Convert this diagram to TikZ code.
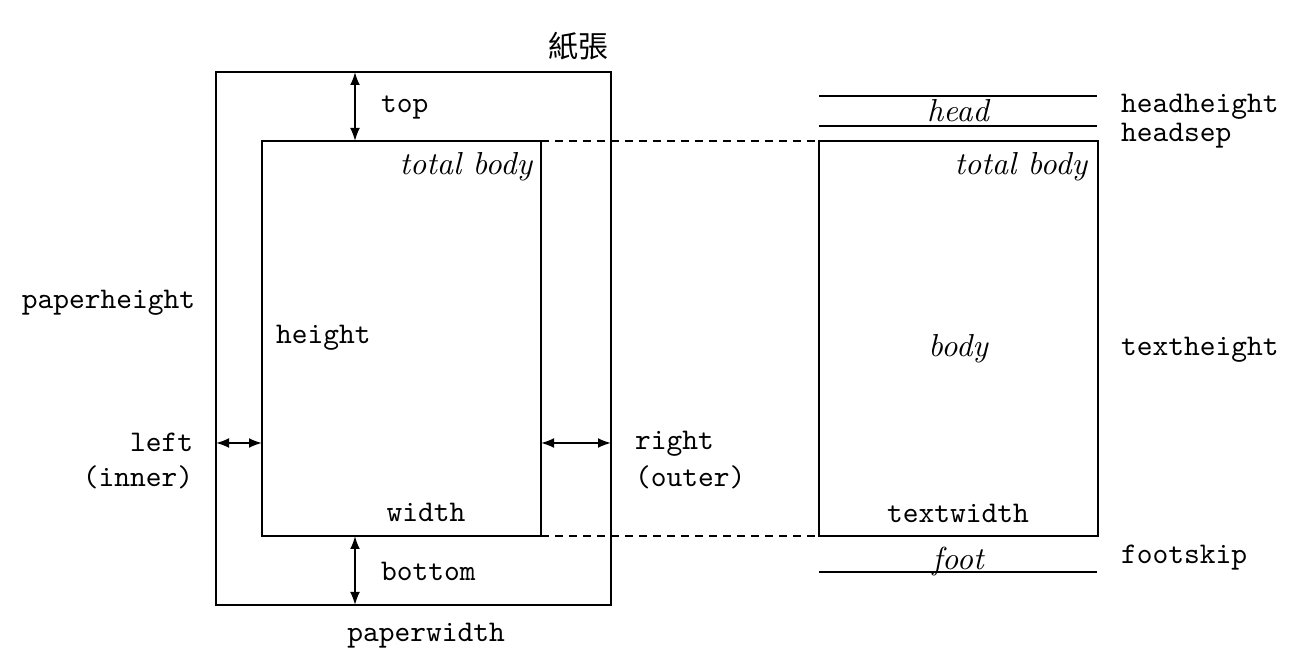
\documentclass[tikz,border=0pt]{standalone}
\usepackage{fontspec}
\newfontfamily\cjkfont{Noto Sans CJK TC}
\newfontfamily\ttten{lmmono10-regular.otf}
\newfontfamily\itten{lmroman10-italic.otf}
\usetikzlibrary{arrows.meta}
\begin{document}
\begin{tikzpicture}[x=0.5pt,y=-0.5pt,line width=1pt,
  >={Latex[length=6.5pt,width=5pt]},
  dimarrow/.style={<->},
  guide/.style={dashed,line width=0.7pt,dash pattern=on 4pt off 3pt},
  tt/.style={font=\fontsize{15}{18}\selectfont\ttten,inner sep=0pt},
  itx/.style={font=\fontsize{15.9}{19}\selectfont\itten,inner sep=0pt},
  cjk/.style={font=\fontsize{15}{18}\selectfont\cjkfont,inner sep=0pt}]
\useasboundingbox (0,0) rectangle (1314,662);
% paper and left body
\draw (216,72) rectangle (611,605);
\draw (262,141) rectangle (541,536);
\coordinate (pT) at (355,72);  \coordinate (bT) at (355,141);
\coordinate (bB) at (355,536); \coordinate (pB) at (355,605);
\coordinate (pL) at (216,443); \coordinate (bL) at (262,443);
\coordinate (bR) at (541,443); \coordinate (pR) at (611,443);
\draw[dimarrow] (pT) -- (bT);
\draw[dimarrow] (bB) -- (pB);
\draw[dimarrow] (pL) -- (bL);
\draw[dimarrow] (bR) -- (pR);
% right body
\draw (819,141) rectangle (1098,536);
\coordinate (lTR) at (541,141); \coordinate (rTL) at (819,141);
\coordinate (lBR) at (541,536); \coordinate (rBL) at (819,536);
\draw[guide] (lTR) -- (rTL);
\draw[guide] (lBR) -- (rBL);
\draw (819,96) -- (1097,96);
\draw (819,126) -- (1097,126);
\draw (819,572) -- (1097,572);
% labels
\node[cjk] (paper) at (578,46) {紙張};
\node[tt,anchor=base west] (top) at (380,113) {top};
\node[itx,anchor=base east] (tb1) at (533,175) {total body};
\node[tt,anchor=base east] (ph) at (196,309) {paperheight};
\node[tt,anchor=base west] (h) at (275,344) {height};
\node[tt,anchor=base east] (lft) at (194,452) {left};
\node[tt,anchor=base east] (inn) at (194,487) {(inner)};
\node[tt,anchor=base west] (rgt) at (634,450) {right};
\node[tt,anchor=base west] (out) at (634,487) {(outer)};
\node[tt,anchor=base] (w) at (426,522) {width};
\node[tt,anchor=base west] (bot) at (380,581) {bottom};
\node[tt,anchor=base] (pw) at (426,642) {paperwidth};
\node[itx,anchor=base] (head) at (958,122) {head};
\node[tt,anchor=base west] (hh) at (1120,113) {headheight};
\node[tt,anchor=base west] (hs) at (1120,142) {headsep};
\node[itx,anchor=base east] (tb2) at (1088,175) {total body};
\node[itx,anchor=base] (body) at (958,357) {body};
\node[tt,anchor=base west] (th) at (1120,356) {textheight};
\node[tt,anchor=base] (tw) at (958,523) {textwidth};
\node[tt,anchor=base west] (fs) at (1120,564) {footskip};
\node[itx,anchor=base] (foot) at (958,570) {foot};
\end{tikzpicture}
\end{document}
